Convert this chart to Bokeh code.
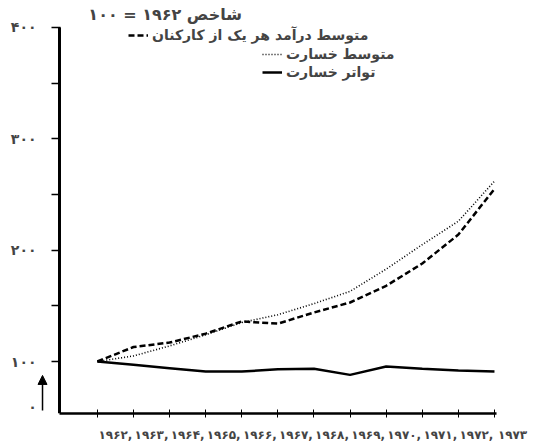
from bokeh.plotting import figure
from bokeh.models import (LinearAxis, FixedTicker, Range1d, Legend, LegendItem,
                          Arrow, NormalHead, Label)
from bokeh.embed import file_html
from bokeh.resources import INLINE

# ---- data ----
years = [1962, 1963, 1964, 1965, 1966, 1967, 1968, 1969, 1970, 1971, 1972, 1973]
income = [100, 113, 117, 125, 136, 134, 144, 153, 168, 188, 214, 255]      # dashed
avg_loss = [100, 105, 114, 124, 135, 142, 152, 163, 183, 205, 226, 262]    # dotted
freq = [100, 97, 94, 91, 91, 93, 93.5, 88, 95.5, 93.5, 92, 91]             # solid

x_labels = ["۱۹۶۲,", "۱۹۶۳,", "۱۹۶۴,", "۱۹۶۵,", "۱۹۶۶,", "۱۹۶۷,",
            "۱۹۶۸,", "۱۹۶۹,", "۱۹۷۰,", "۱۹۷۱,", "۱۹۷۲,", "۱۹۷۳"]
y_ticks = [100, 200, 300, 400]
y_labels = ["۱۰۰", "۲۰۰", "۳۰۰", "۴۰۰"]
y_minor = [150, 250, 350]
title_text = "شاخص ۱۹۶۲ = ۱۰۰"
legend_labels = ["متوسط درآمد هر یک از کارکنان", "متوسط خسارت", "تواتر خسارت"]
zero_label = "۰"

FONT = "DejaVu Sans"
X0 = 1960.95          # where the y axis stands
Y0 = 53.3             # bottom of the broken y scale
Y_TOP = 400           # top of the y axis

p = figure(frame_width=516, frame_height=413,
           x_range=Range1d(1959.316, 1973.61), y_range=Range1d(Y0, 424.25),
           x_axis_type=None, y_axis_type=None,
           output_backend="svg", toolbar_location=None,
           min_border_left=0, min_border_right=20,
           min_border_top=0, min_border_bottom=30)
p.outline_line_color = None
p.background_fill_color = "white"
p.border_fill_color = "white"

# y axis, standing at X0 inside the frame
yax = LinearAxis(ticker=FixedTicker(ticks=y_ticks, minor_ticks=y_minor),
                 major_label_overrides={t: l for t, l in zip(y_ticks, y_labels)},
                 fixed_location=X0, bounds=(Y0, Y_TOP))
yax.axis_line_width = 3
yax.major_tick_out = 8
yax.major_tick_in = 1
yax.minor_tick_out = 8
yax.minor_tick_in = 1
yax.major_tick_line_width = 1.5
yax.minor_tick_line_width = 1.5
yax.major_label_standoff = 15
yax.major_label_text_font = FONT
yax.major_label_text_font_size = "14px"
yax.major_label_text_font_style = "bold"
p.add_layout(yax, "left")

# x axis line with tick marks at each year
xax_line = LinearAxis(ticker=FixedTicker(ticks=[], minor_ticks=years),
                      bounds=(X0, years[-1] + 0.05))
xax_line.axis_line_width = 2.5
xax_line.minor_tick_in = 4
xax_line.minor_tick_out = 4
xax_line.minor_tick_line_width = 1
xax_line.major_label_standoff = 0
p.add_layout(xax_line, "below")

# x labels, starting at each tick
label_pos = [y + 0.5 for y in years]
xax_lab = LinearAxis(ticker=FixedTicker(ticks=label_pos),
                     major_label_overrides={pos: l for pos, l in zip(label_pos, x_labels)})
xax_lab.axis_line_color = None
xax_lab.major_tick_line_color = None
xax_lab.minor_tick_line_color = None
xax_lab.major_tick_in = 0
xax_lab.major_tick_out = 0
xax_lab.major_label_standoff = 10
xax_lab.major_label_text_font = FONT
xax_lab.major_label_text_font_size = "12px"
xax_lab.major_label_text_font_style = "bold"
p.add_layout(xax_lab, "below")

r_income = p.line(years, income, line_width=2.5, line_dash="6 3", line_color="black")
r_loss = p.line(years, avg_loss, line_width=1.6, line_dash="1 2", line_color="black")
r_freq = p.line(years, freq, line_width=2.5, line_color="black")

# title of the index, above the legend
title = Label(x=1961.75, y=411.7, text=title_text, text_align="left",
              text_baseline="middle", text_font=FONT, text_font_size="16px",
              text_font_style="bold")
p.add_layout(title)

# one legend per row so each sample line sits just left of its text
legend_spots = [(128, 369), (262, 350), (262, 332)]
for lab, r, loc in zip(legend_labels, [r_income, r_loss, r_freq], legend_spots):
    lg = Legend(items=[LegendItem(label=lab, renderers=[r])],
                location=loc, padding=0, margin=0, spacing=0,
                glyph_width=20, glyph_height=18, label_height=18,
                label_standoff=4,
                border_line_color=None, background_fill_alpha=0,
                label_text_font=FONT, label_text_font_size="14px",
                label_text_font_style="bold")
    p.add_layout(lg)

arrow = Arrow(end=NormalHead(size=9, fill_color="black", line_color="black"),
              x_start=1960.48, y_start=56, x_end=1960.48, y_end=87.5,
              line_width=1.5, line_color="black")
p.add_layout(arrow)

zero = Label(x=1960.2, y=58.7, text=zero_label, text_align="center",
             text_baseline="middle", text_font=FONT, text_font_size="14px",
             text_font_style="bold")
p.add_layout(zero)

open("out.html", "w").write(file_html(p, INLINE))
